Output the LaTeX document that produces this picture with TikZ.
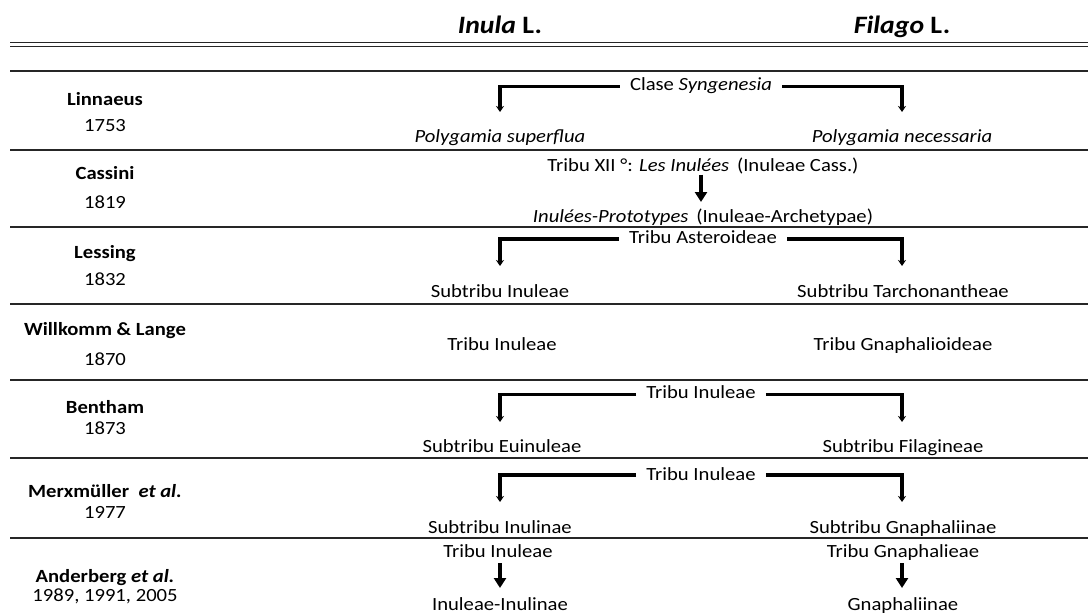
\documentclass[tikz,border=0pt]{standalone}
\usepackage{fontspec}
\setmainfont{Carlito}[FakeStretch=1.11]
\usetikzlibrary{arrows.meta}
\newcommand{\bodyfont}{\fontsize{18.6}{22}\selectfont}

\begin{document}
\begin{tikzpicture}[x=1pt, y=-1pt]
    \tikzset{
        head/.style={
            anchor=base, font=\fontsize{25}{30}\selectfont\bfseries
        },
        author/.style={
            anchor=base, font=\bodyfont\bfseries
        },
        year/.style={
            anchor=base, font=\bodyfont
        },
        taxon/.style={
            anchor=base, font=\bodyfont, inner xsep=10pt
        },
        rule/.style={line width=2.4pt, draw=black!85},
        bracket/.style={
            line width=3.2pt,
            -{Stealth[length=6pt, width=8pt]}
        },
        down/.style={
            line width=3.4pt,
            -{Triangle[length=10pt, width=12pt]}
        },
    }
    \useasboundingbox (0,0) rectangle (1088,613);

    % ==== Header and rules ====
    \node[head] (inula) at (500,33) {\textit{Inula} L.};
    \node[head] (filago) at (902,33) {\textit{Filago} L.};
    \draw[line width=1.6pt, draw=black!85] (10,42.3) -- (1088,42.3);
    \draw[line width=1.6pt, draw=black!85] (10,46.5) -- (1088,46.5);
    \foreach \y in {71,150,227,304,380,458,538}
        \draw[rule] (10,\y) -- (1088,\y);

    % ==== Authors ====
    \node[author] (lin) at (105,105) {Linnaeus};
    \node[year] (liny) at (105,131) {1753};
    \node[author] (cas) at (105,179) {Cassini};
    \node[year] (casy) at (105,208) {1819};
    \node[author] (les) at (105,258) {Lessing};
    \node[year] (lesy) at (105,285) {1832};
    \node[author] (wil) at (105,335) {Willkomm \& Lange};
    \node[year] (wily) at (105,365) {1870};
    \node[author] (ben) at (105,413) {Bentham};
    \node[year] (beny) at (105,434) {1873};
    \node[author] (mer) at (105,497) {Merxmüller \ \textit{et al.}};
    \node[year] (mery) at (105,518) {1977};
    \node[author] (and) at (105,582) {Anderberg \textit{et al.}};
    \node[year] (andy) at (105,601) {1989, 1991, 2005};

    % ==== Linnaeus ====
    \node[taxon] (syn) at (701,90) {Clase \textit{Syngenesia}};
    \node[taxon] (sup) at (500,142) {\textit{Polygamia superflua}};
    \node[taxon] (nec) at (902,142) {\textit{Polygamia necessaria}};
    \draw[bracket] ([yshift=3.5pt]syn.base west) -| ([yshift=30pt]sup.base);
    \draw[bracket] ([yshift=3.5pt]syn.base east) -| ([yshift=30pt]nec.base);

    % ==== Cassini ====
    \node[taxon] (inu) at (703,171.5) {Tribu XII °: \textit{Les Inulées}\, (Inuleae Cass.)};
    \node[taxon] (pro) at (703,222) {\textit{Inulées-Prototypes}\, (Inuleae-Archetypae)};
    \draw[down] ([xshift=-2pt, yshift=-3pt]inu.base) -- ([xshift=-2pt, yshift=20pt]pro.base);

    % ==== Lessing ====
    \node[taxon] (ast) at (703,243) {Tribu Asteroideae};
    \node[taxon] (lesinu) at (500,297) {Subtribu Inuleae};
    \node[taxon] (lestar) at (903,297) {Subtribu Tarchonantheae};
    \draw[bracket] ([yshift=4pt]ast.base west) -| ([yshift=31pt]lesinu.base);
    \draw[bracket] ([yshift=4pt]ast.base east) -| ([xshift=-1pt, yshift=31pt]lestar.base);

    % ==== Willkomm & Lange ====
    \node[taxon] (wilinu) at (502,350) {Tribu Inuleae};
    \node[taxon] (wilgna) at (903,350) {Tribu Gnaphalioideae};

    % ==== Bentham ====
    \node[taxon] (bentri) at (701,398) {Tribu Inuleae};
    \node[taxon] (beneui) at (502,452) {Subtribu Euinuleae};
    \node[taxon] (benfil) at (903,452) {Subtribu Filagineae};
    \draw[bracket] ([yshift=3.5pt]bentri.base west) -| ([xshift=-2pt, yshift=30pt]beneui.base);
    \draw[bracket] ([yshift=3.5pt]bentri.base east) -| ([xshift=-1pt, yshift=30pt]benfil.base);

    % ==== Merxmüller et al. ====
    \node[taxon] (mertri) at (701,480) {Tribu Inuleae};
    \node[taxon] (merinu) at (500,533) {Subtribu Inulinae};
    \node[taxon] (mergna) at (903,533) {Subtribu Gnaphaliinae};
    \draw[bracket] ([yshift=5pt]mertri.base west) -| ([yshift=31pt]merinu.base);
    \draw[bracket] ([yshift=5pt]mertri.base east) -| ([xshift=-1pt, yshift=31pt]mergna.base);

    % ==== Anderberg et al. ====
    \node[taxon] (andinu) at (498,557) {Tribu Inuleae};
    \node[taxon] (andgna) at (903,557) {Tribu Gnaphalieae};
    \node[taxon] (andinl) at (500,610) {Inuleae-Inulinae};
    \node[taxon] (andgnl) at (903,610) {Gnaphaliinae};
    \draw[down] ([xshift=2pt, yshift=-6pt]andinu.base) -- ([yshift=22pt]andinl.base);
    \draw[down] ([xshift=-1pt, yshift=-6pt]andgna.base) -- ([xshift=-1pt, yshift=22pt]andgnl.base);

\end{tikzpicture}
\end{document}
